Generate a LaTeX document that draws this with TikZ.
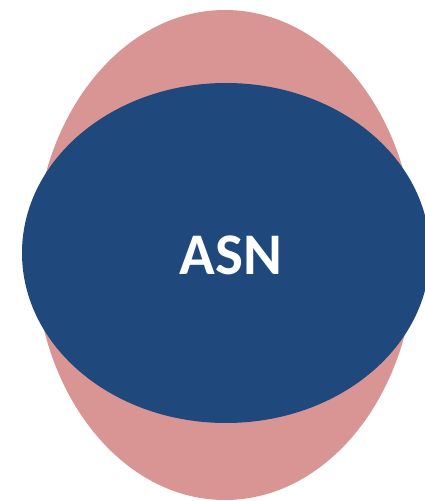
\documentclass[tikz,border=0pt]{standalone}
\usepackage{fontspec}
\setmainfont{Carlito}
\usetikzlibrary{shapes.geometric,positioning}
\definecolor{outerpink}{RGB}{217,149,148}
\definecolor{asnblue}{RGB}{31,73,125}
\tikzset{blob/.style={ellipse, inner sep=0pt, draw=none}}
\begin{document}
\begin{tikzpicture}[x=1pt,y=1pt]
  \useasboundingbox (0,0) rectangle (424,501);
  \node[blob, fill=outerpink, minimum width=380pt, minimum height=490pt] (outer) at (225,246) {};
  \node[blob, fill=asnblue, minimum width=408pt, minimum height=340pt] (asn) at (226,248) {};
  \node[font=\fontsize{59}{62}\selectfont\bfseries, text=white] (label) at ([xshift=5pt,yshift=-2pt]asn.center) {ASN};
\end{tikzpicture}
\end{document}
